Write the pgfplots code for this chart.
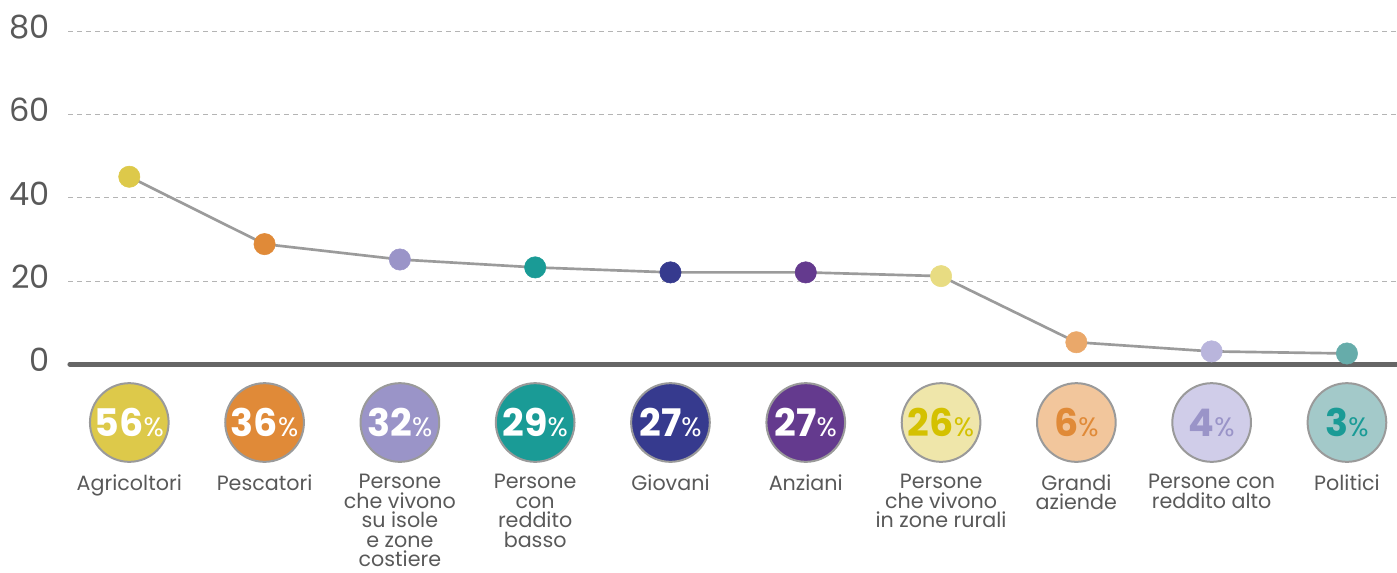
\documentclass[border=0pt]{standalone}
\usepackage{pgfplots}
\pgfplotsset{compat=1.18}
\usepackage{fontspec}
\setmainfont{Poppins}
\definecolor{c1}{HTML}{DDC94A}
\definecolor{c2}{HTML}{E08A38}
\definecolor{c3}{HTML}{9A94C8}
\definecolor{c4}{HTML}{1A9B96}
\definecolor{c5}{HTML}{363A8E}
\definecolor{c6}{HTML}{643A8E}
\definecolor{m7}{HTML}{E8DC82}
\definecolor{f7}{HTML}{EFE6AA}
\definecolor{t7}{HTML}{D4C100}
\definecolor{m8}{HTML}{EAA86A}
\definecolor{f8}{HTML}{F2C69C}
\definecolor{m9}{HTML}{B9B5DC}
\definecolor{f9}{HTML}{D0CDE9}
\definecolor{m10}{HTML}{66ACAA}
\definecolor{f10}{HTML}{A3C9C9}
\definecolor{linegray}{HTML}{9B9B9B}
\definecolor{basegray}{HTML}{666666}
\definecolor{gridgray}{HTML}{B4B4B4}
\definecolor{circgray}{HTML}{9A9A9A}
\definecolor{labgray}{HTML}{595959}
\newcommand\dotpt[3]{\addplot[only marks, mark=*, mark size=8pt, mark options={draw=#3, fill=#3}] coordinates {(#1,#2)};}
\newcommand\pct[4]{\addplot[only marks, mark=*, mark size=29.5pt, mark options={fill=#2, draw=circgray, line width=1.5pt},
  nodes near coords={\textcolor{#3}{\fontsize{28.5}{28}\selectfont\bfseries #4\fontsize{20}{20}\selectfont\mdseries\%}},
  every node near coord/.append style={anchor=center, inner sep=0pt}] coordinates {(#1,-14)};}
\begin{document}
\begin{tikzpicture}
\path[use as bounding box] (-51.2pt,-156pt) rectangle (996.5pt,273.2pt);
\begin{axis}[
  scale only axis, width=996.5pt, height=249.5pt,
  xmin=-0.451, xmax=9.37, ymin=0, ymax=80,
  clip=false,
  axis line style={draw=none},
  tick style={draw=none},
  ytick={0,20,40,60,80},
  ymajorgrids=true, xmajorgrids=false,
  grid style={gridgray, line width=0.75pt, dash pattern=on 3.75pt off 3pt},
  xtick={0,1,2,3,4,5,6,7,8,9},
  xticklabels={Agricoltori, Pescatori, {Persone\\che vivono\\su isole\\e zone\\costiere}, {Persone\\con\\reddito\\basso}, Giovani, Anziani, {Persone\\che vivono\\in zone rurali}, {Grandi\\aziende}, {Persone con\\reddito alto}, Politici},
  xticklabel style={align=center, anchor=north, yshift=-79pt, font=\fontsize{15.5}{14.6}\selectfont, text=labgray},
  yticklabel style={anchor=east, inner sep=0pt, xshift=-13.7pt, yshift=3.5pt, font=\fontsize{24}{24}\selectfont, text=labgray},
  /pgf/number format/assume math mode=true,
]
\draw[gridgray, line width=0.75pt, dash pattern=on 3.75pt off 3pt] (axis cs:-0.451,80) -- (axis cs:9.37,80);
\draw[basegray, line width=3.5pt, line cap=round] (axis cs:-0.44,0) -- (axis cs:9.4,0);
\addplot[linegray, line width=2pt, no marks] coordinates {(0,45.1) (1,28.9) (2,25.2) (3,23.3) (4,22.1) (5,22.1) (6,21.2) (7,5.3) (8,3.1) (9,2.6)};
\dotpt{0}{45.1}{c1}
\dotpt{1}{28.9}{c2}
\dotpt{2}{25.2}{c3}
\dotpt{3}{23.3}{c4}
\dotpt{4}{22.1}{c5}
\dotpt{5}{22.1}{c6}
\dotpt{6}{21.2}{m7}
\dotpt{7}{5.3}{m8}
\dotpt{8}{3.1}{m9}
\dotpt{9}{2.6}{m10}
\pct{0}{c1}{white}{56}
\pct{1}{c2}{white}{36}
\pct{2}{c3}{white}{32}
\pct{3}{c4}{white}{29}
\pct{4}{c5}{white}{27}
\pct{5}{c6}{white}{27}
\pct{6}{f7}{t7}{26}
\pct{7}{f8}{c2}{6}
\pct{8}{f9}{c3}{4}
\pct{9}{f10}{c4}{3}
\end{axis}
\end{tikzpicture}
\end{document}
